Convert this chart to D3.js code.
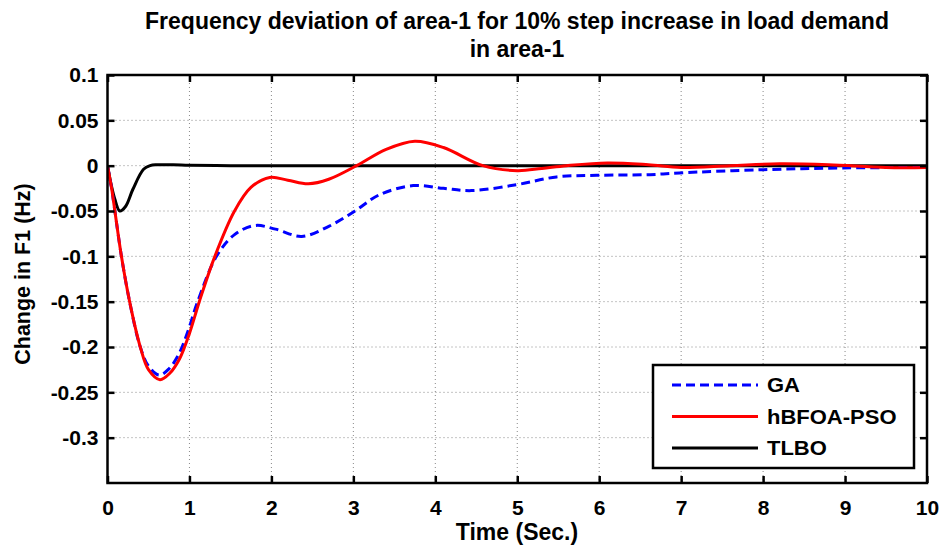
<!DOCTYPE html>
<html><head><meta charset="utf-8">
<script src="https://cdn.jsdelivr.net/npm/d3@7"></script>
<style>body{margin:0;background:#fff}svg{display:block}text{font-family:"Liberation Sans",Arial,sans-serif;font-weight:bold}</style>
</head><body>
<script>
const titleLines = ["Frequency deviation of area-1 for 10% step increase in load demand", "in area-1"];
const xLabel = "Time (Sec.)";
const yLabel = "Change in F1 (Hz)";
const xTicks = [0,1,2,3,4,5,6,7,8,9,10];
const yTicks = [0.1,0.05,0,-0.05,-0.1,-0.15,-0.2,-0.25,-0.3];
const seriesNames = ["GA","hBFOA-PSO","TLBO"];

const gaT = [0,0.05,0.09,0.17,0.27,0.40,0.50,0.63,0.75,0.87,0.98,1.1,1.33,1.55,1.80,2.05,2.37,2.7,3.02,3.32,3.73,4.1,4.44,4.99,5.48,5.97,6.62,6.98,8.0,8.97,10];
const gaV = [0,-0.025,-0.05,-0.1,-0.15,-0.2,-0.221,-0.231,-0.224,-0.208,-0.183,-0.15,-0.1,-0.076,-0.066,-0.070,-0.078,-0.067,-0.05,-0.032,-0.022,-0.025,-0.0275,-0.021,-0.0124,-0.0106,-0.0099,-0.008,-0.0044,-0.0025,-0.002];

const hbT = [0,0.05,0.09,0.17,0.27,0.40,0.50,0.64,0.76,0.88,1.0,1.12,1.31,1.55,1.75,1.98,2.2,2.45,2.7,3.04,3.4,3.75,4.1,4.58,5.0,5.3,5.6,6.1,6.6,7.0,7.6,8.2,8.8,9.5,10];
const hbV = [0,-0.025,-0.05,-0.1,-0.15,-0.2,-0.225,-0.236,-0.229,-0.213,-0.185,-0.15,-0.1,-0.05,-0.024,-0.013,-0.016,-0.020,-0.015,0,0.018,0.027,0.02,0,-0.0055,-0.003,0,0.003,0.001,-0.002,0,0.002,0.001,-0.002,-0.002];

const tlT = [0,0.05,0.09,0.15,0.22,0.31,0.44,0.52,0.6,0.8,1.0,1.5,2,3,4,5,6,7,8,9,10];
const tlV = [0,-0.023,-0.037,-0.05,-0.045,-0.026,-0.004,0,0.001,0.001,0.0005,0,0,0,0,0,0,0,0,0,0];

const W = 942, H = 552;
const svg = d3.select("body").append("svg").attr("width", W).attr("height", H);
const x = d3.scaleLinear().domain([0,10]).range([107.5,927]);
const y = d3.scaleLinear().domain([-0.35,0.1]).range([483,75]);

// grid
const g = svg.append("g");
g.selectAll(".gx").data(xTicks.slice(1,-1)).enter().append("line")
  .attr("x1", d=>x(d)).attr("x2", d=>x(d)).attr("y1", y(0.1)).attr("y2", y(-0.35))
  .attr("stroke","#888").attr("stroke-width",1).attr("stroke-dasharray","1,3");
g.selectAll(".gy").data(yTicks.slice(1)).enter().append("line")
  .attr("x1", x(0)).attr("x2", x(10)).attr("y1", d=>y(d)).attr("y2", d=>y(d))
  .attr("stroke","#888").attr("stroke-width",1).attr("stroke-dasharray","1,3");

// clip
svg.append("clipPath").attr("id","c").append("rect").attr("x",x(0)).attr("y",y(0.1)).attr("width",x(10)-x(0)).attr("height",y(-0.35)-y(0.1));
const line = d3.line().x(d=>x(d[0])).y(d=>y(d[1])).curve(d3.curveCatmullRom.alpha(0.5));
const zip = (a,b)=>a.map((t,i)=>[t,b[i]]);
const lines = svg.append("g").attr("clip-path","url(#c)");
lines.append("path").attr("d", line(zip(tlT,tlV))).attr("fill","none").attr("stroke","#000").attr("stroke-width",3);
lines.append("path").attr("d", line(zip(gaT,gaV))).attr("fill","none").attr("stroke","#0000ff").attr("stroke-width",3).attr("stroke-dasharray","9,5");
lines.append("path").attr("d", line(zip(hbT,hbV))).attr("fill","none").attr("stroke","#ff0000").attr("stroke-width",3);

// axes
const axB = d3.axisBottom(x).tickValues(xTicks).tickSize(-7).tickPadding(17).tickFormat(d3.format("d"));
const axL = d3.axisLeft(y).tickValues(yTicks).tickSize(-7).tickPadding(9).tickFormat(d=>d===0?"0":String(d));
const axT = d3.axisTop(x).tickValues(xTicks).tickSize(-7).tickFormat("");
const axR = d3.axisRight(y).tickValues(yTicks).tickSize(-7).tickFormat("");
function style(sel){sel.select(".domain").remove();sel.selectAll("line").attr("stroke","#000").attr("stroke-width",2.5);sel.selectAll("text").attr("font-size",21).attr("font-weight","bold").attr("fill","#000").attr("font-family","Liberation Sans, Arial, sans-serif");}
svg.append("g").attr("transform",`translate(0,${y(-0.35)})`).call(axB).call(style);
svg.append("g").attr("transform",`translate(${x(0)},0)`).call(axL).call(style);
svg.append("g").attr("transform",`translate(0,${y(0.1)})`).call(axT).call(style);
svg.append("g").attr("transform",`translate(${x(10)},0)`).call(axR).call(style);
svg.append("rect").attr("x",x(0)).attr("y",y(0.1)).attr("width",x(10)-x(0)).attr("height",y(-0.35)-y(0.1))
  .attr("fill","none").attr("stroke","#000").attr("stroke-width",2.5);

// legend
const lg = svg.append("g");
lg.append("rect").attr("x",653).attr("y",365).attr("width",261).attr("height",103).attr("fill","#fff").attr("stroke","#000").attr("stroke-width",2.5);
const lstyles = [{c:"#0000ff",d:"9,5"},{c:"#ff0000",d:null},{c:"#000",d:null}];
seriesNames.forEach((n,i)=>{
  const yy = 385 + i*31.5;
  lg.append("line").attr("x1",672).attr("x2",758).attr("y1",yy).attr("y2",yy).attr("stroke",lstyles[i].c).attr("stroke-width",3).attr("stroke-dasharray",lstyles[i].d);
  lg.append("text").attr("transform",`translate(767,${yy+7}) scale(1.1,1)`).attr("font-size",20).text(n);
});

// title & labels
titleLines.forEach((t,i)=>svg.append("text").attr("x",517).attr("y",29+i*28).attr("text-anchor","middle").attr("font-size",23).text(t));
svg.append("text").attr("x",517).attr("y",540).attr("text-anchor","middle").attr("font-size",23).text(xLabel);
svg.append("text").attr("transform","translate(30,274) rotate(-90)").attr("text-anchor","middle").attr("font-size",21.5).text(yLabel);
</script>
</body></html>
